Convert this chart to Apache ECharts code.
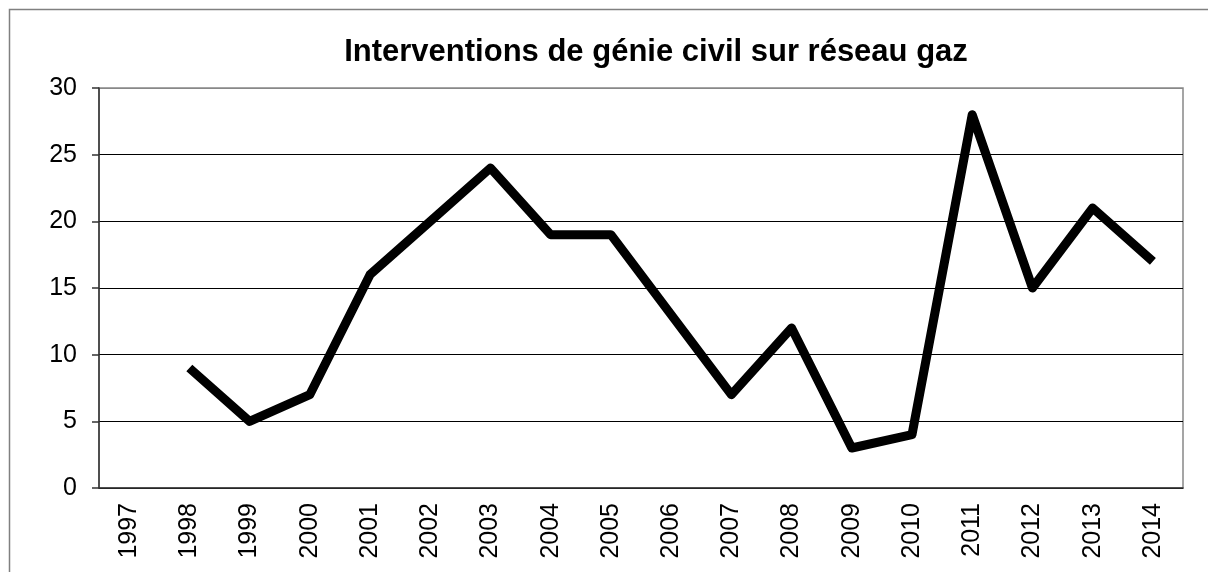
<!DOCTYPE html>
<html>
<head>
<meta charset="utf-8">
<script src="https://cdn.jsdelivr.net/npm/echarts@6/dist/echarts.min.js"></script>
<style>
html, body { margin: 0; padding: 0; background: #fff; }
#chart { width: 1208px; height: 572px; }
</style>
</head>
<body>
<div id="chart"></div>
<script>
// données
var years = ['1997', '1998', '1999', '2000', '2001', '2002', '2003', '2004', '2005',
	'2006', '2007', '2008', '2009', '2010', '2011', '2012', '2013', '2014'];
var interventions = [null, 9, 5, 7, 16, 20, 24, 19, 19, 13, 7, 12, 3, 4, 28, 15, 21, 17];
var yTicks = [0, 5, 10, 15, 20, 25, 30];

var myChart = echarts.init(document.getElementById('chart'));
var font = 'Liberation Sans, Arial, sans-serif';

myChart.setOption({
	animation: false,
	backgroundColor: '#fff',
	title: {
		text: 'Interventions de génie civil sur réseau gaz',
		left: 651,
		top: 32,
		textAlign: 'center',
		textStyle: { fontFamily: font, fontSize: 31, fontWeight: 'bold', color: '#000' }
	},
	graphic: [{
		type: 'rect',
		shape: { x: 9.5, y: 9.5, width: 1300, height: 700 },
		style: { fill: 'none', stroke: '#808080', lineWidth: 1.5 },
		silent: true
	}],
	grid: {
		left: 99, right: 25, top: 88, bottom: 84,
		show: true,
		borderColor: '#888',
		borderWidth: 1.5
	},
	xAxis: {
		type: 'category',
		data: years,
		boundaryGap: true,
		axisLine: { lineStyle: { color: '#333', width: 1.5 } },
		axisTick: { length: 8, lineStyle: { color: '#333', width: 1.5 } },
		axisLabel: {
			rotate: 90,
			margin: 15,
			interval: 0,
			fontFamily: font,
			fontSize: 25,
			color: '#000'
		}
	},
	yAxis: {
		type: 'value',
		min: yTicks[0],
		max: yTicks[yTicks.length - 1],
		interval: 5,
		axisLine: { show: true, lineStyle: { color: '#333', width: 1.5 } },
		axisTick: { show: true, length: 7, lineStyle: { color: '#333', width: 1.5 } },
		axisLabel: { margin: 22, fontFamily: font, fontSize: 25, color: '#000' },
		splitLine: {
			lineStyle: { color: ['#000', '#000', '#000', '#000', '#000', '#000', '#888'], width: 1 }
		}
	},
	series: [{
		type: 'line',
		data: interventions,
		showSymbol: false,
		symbol: 'none',
		connectNulls: false,
		lineStyle: { color: '#000', width: 9, join: 'round' }
	}]
});
</script>
</body>
</html>
